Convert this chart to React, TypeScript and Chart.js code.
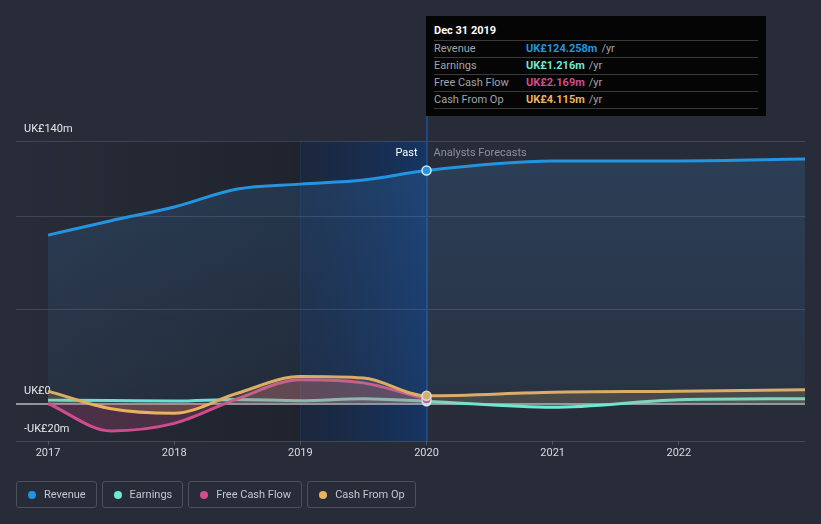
import React, { useEffect, useRef } from 'react';
import { Chart, registerables } from 'chart.js';

Chart.register(...registerables);

// ---- data ----
const years = [2017, 2017.5, 2018, 2018.5, 2019, 2019.5, 2020, 2021, 2022, 2023];
const fcfYears = [2017, 2017.5, 2018, 2018.5, 2019, 2019.5, 2020];
const revenue = [89.8, 97.5, 104.8, 114.4, 117.0, 119.2, 124.258, 129.3, 129.4, 130.4];
const earnings = [1.8, 1.6, 1.3, 2.2, 1.5, 2.6, 1.216, -2.0, 2.0, 2.6];
const freeCashFlow = [0, -14.6, -10.6, 2.5, 12.7, 11.0, 2.169];
const cashFromOp = [6.6, -2.8, -5.2, 5.5, 14.4, 13.6, 4.115, 6.0, 6.5, 7.3];

const xTickValues = [2017, 2018, 2019, 2020, 2021, 2022];
const yTickValues = [-20, 0, 50, 100, 140];
const yTickLabels = ['-UK£20m', 'UK£0', '', '', 'UK£140m'];

const highlightYear = 2020;
const pastStartYear = 2019;

const tooltipTitle = 'Dec 31 2019';
const tooltipRows = [
  { label: 'Revenue', value: 'UK£124.258m', color: '#2394df' },
  { label: 'Earnings', value: 'UK£1.216m', color: '#6ee7d3' },
  { label: 'Free Cash Flow', value: 'UK£2.169m', color: '#cf4c8e' },
  { label: 'Cash From Op', value: 'UK£4.115m', color: '#e9b25f' },
];

const legendItems = [
  { label: 'Revenue', color: '#2394df' },
  { label: 'Earnings', color: '#6ee7d3' },
  { label: 'Free Cash Flow', color: '#cf4c8e' },
  { label: 'Cash From Op', color: '#e9b25f' },
];

const BG = '#272c38';
const FONT = 'Roboto, "Open Sans", sans-serif';

const toXY = (xs: number[], ys: number[]) => xs.map((x, i) => ({ x, y: ys[i] }));

export default function App() {
  const ref = useRef<HTMLCanvasElement>(null);

  useEffect(() => {
    document.body.style.margin = '0';
    document.body.style.background = BG;
    const canvas = ref.current!;

    const shadePlugin = {
      id: 'shade',
      beforeDraw(chart: any) {
        const { ctx, chartArea: a, scales } = chart;
        const x = scales.x;
        ctx.save();
        ctx.fillStyle = BG;
        ctx.fillRect(0, 0, chart.width, chart.height);
        const x19 = x.getPixelForValue(pastStartYear);
        const x20 = x.getPixelForValue(highlightYear);
        let g = ctx.createLinearGradient(a.left, 0, x19, 0);
        g.addColorStop(0, 'rgba(0,0,0,0.0)');
        g.addColorStop(1, 'rgba(0,0,0,0.2)');
        ctx.fillStyle = g;
        ctx.fillRect(a.left, a.top, x19 - a.left, a.bottom - a.top);
        g = ctx.createLinearGradient(x19, 0, x20, 0);
        g.addColorStop(0, 'rgba(6,30,70,0.35)');
        g.addColorStop(1, 'rgba(8,60,135,0.55)');
        ctx.fillStyle = g;
        ctx.fillRect(x19, a.top, x20 - x19, a.bottom - a.top);
        ctx.fillStyle = 'rgba(40,90,160,0.2)';
        ctx.fillRect(Math.round(x19), a.top, 1, a.bottom - a.top);
        ctx.restore();
      },
      beforeDatasetsDraw(chart: any) {
        const { ctx, chartArea: a, scales } = chart;
        const x20 = scales.x.getPixelForValue(highlightYear);
        ctx.save();
        ctx.fillStyle = 'rgba(28,78,150,0.85)';
        ctx.fillRect(Math.round(x20) - 1, 116, 2, a.bottom - 116);
        ctx.font = '11px ' + FONT;
        ctx.textBaseline = 'middle';
        ctx.textAlign = 'right';
        ctx.fillStyle = '#ffffff';
        ctx.fillText('Past', x20 - 9, 153);
        ctx.textAlign = 'left';
        ctx.fillStyle = '#8b9099';
        ctx.fillText('Analysts Forecasts', x20 + 7, 153);
        ctx.restore();
      },
    };

    const pointR = (r: number) => (c: any) => (c.raw && c.raw.x === highlightYear ? r : 0);

    const revFill = (c: any) => {
      const ch = c.chart;
      const a = ch.chartArea;
      if (!a) return 'rgba(60,120,185,0.18)';
      const y0 = ch.scales.y.getPixelForValue(0);
      const g = ch.ctx.createLinearGradient(0, a.top, 0, y0);
      g.addColorStop(0, 'rgba(60,125,190,0.24)');
      g.addColorStop(1, 'rgba(60,125,190,0.08)');
      return g;
    };

    const chart = new Chart(canvas, {
      type: 'line',
      data: {
        datasets: [
          {
            label: 'Revenue',
            data: toXY(years, revenue),
            borderColor: '#2394df',
            backgroundColor: revFill,
            fill: 'origin',
            borderWidth: 3,
            cubicInterpolationMode: 'monotone',
            pointRadius: pointR(4.5),
            pointBackgroundColor: '#2394df',
            pointBorderColor: 'rgba(225,238,250,0.95)',
            pointBorderWidth: 1.5,
            order: 0,
          },
          {
            label: 'Cash From Op',
            data: toXY(years, cashFromOp),
            borderColor: '#e9b25f',
            backgroundColor: 'rgba(235,175,95,0.18)',
            fill: 'origin',
            borderWidth: 3,
            cubicInterpolationMode: 'monotone',
            pointRadius: pointR(4.5),
            pointBackgroundColor: '#e9b25f',
            pointBorderColor: 'rgba(225,238,250,0.9)',
            pointBorderWidth: 1.5,
            order: 1,
          },
          {
            label: 'Free Cash Flow',
            data: toXY(fcfYears, freeCashFlow),
            borderColor: '#cf4c8e',
            backgroundColor: 'rgba(200,70,130,0.24)',
            fill: 'origin',
            borderWidth: 3,
            cubicInterpolationMode: 'monotone',
            pointRadius: pointR(4.5),
            pointBackgroundColor: '#cf4c8e',
            pointBorderColor: 'rgba(225,238,250,0.9)',
            pointBorderWidth: 1.5,
            order: 2,
          },
          {
            label: 'Earnings',
            data: toXY(years, earnings),
            borderColor: '#6ee7d3',
            backgroundColor: 'rgba(110,231,211,0.12)',
            fill: 'origin',
            borderWidth: 3,
            cubicInterpolationMode: 'monotone',
            pointRadius: pointR(4.5),
            pointBackgroundColor: '#6ee7d3',
            pointBorderColor: 'rgba(225,238,250,0.9)',
            pointBorderWidth: 1.5,
            order: 3,
          },
        ],
      },
      options: {
        responsive: false,
        animation: false,
        devicePixelRatio: 1,
        layout: { padding: { left: 16, right: 16, top: 141, bottom: 61 } },
        plugins: { legend: { display: false }, tooltip: { enabled: false } },
        events: [],
        scales: {
          x: {
            type: 'linear',
            min: 2016.746,
            max: 2023,
            afterBuildTicks: (s: any) => {
              s.ticks = xTickValues.map((v) => ({ value: v }));
            },
            afterFit: (s: any) => {
              s.height = 22;
            },
            ticks: {
              callback: (v: any) => String(v),
              color: '#d8dadf',
              font: { size: 11, family: FONT },
              padding: 2,
              maxRotation: 0,
              autoSkip: false,
            },
            grid: { drawOnChartArea: false, drawTicks: true, tickLength: 4, color: '#4b505b' },
            border: { display: false },
          },
          y: {
            min: -20,
            max: 140,
            afterBuildTicks: (s: any) => {
              s.ticks = yTickValues.map((v) => ({ value: v }));
            },
            afterFit: (s: any) => {
              s.width = 0;
            },
            ticks: {
              mirror: true,
              padding: 8,
              labelOffset: -12,
              color: '#e6e7ea',
              font: { size: 11, family: FONT },
              callback: (_v: any, i: number) => yTickLabels[i],
            },
            grid: {
              drawTicks: false,
              color: (c: any) => (c.tick && c.tick.value === 0 ? 'rgba(165,168,175,0.85)' : 'rgba(255,255,255,0.13)'),
              lineWidth: (c: any) => (c.tick && c.tick.value === 0 ? 2 : 1),
            },
            border: { display: false },
          },
        },
      },
      plugins: [shadePlugin],
    } as any);

    return () => chart.destroy();
  }, []);

  return (
    <div style={{ position: 'fixed', left: 0, top: 0, width: 821, height: 524, background: BG, fontFamily: FONT, overflow: 'hidden' }}>
      <canvas ref={ref} width={821} height={524} style={{ position: 'absolute', left: 0, top: 0, width: 821, height: 524 }} />
      <div
        style={{
          position: 'absolute',
          left: 426,
          top: 16,
          width: 340,
          height: 100,
          background: '#050505',
          boxSizing: 'border-box',
          padding: '0 8px',
          fontSize: 11,
        }}
      >
        <div style={{ height: 24, lineHeight: '30px', color: '#ffffff', fontWeight: 700 }}>{tooltipTitle}</div>
        {tooltipRows.map((r) => (
          <div
            key={r.label}
            style={{
              height: 17,
              boxSizing: 'border-box',
              lineHeight: '16px',
              borderTop: '1px solid #3a3a3a',
              display: 'flex',
              whiteSpace: 'nowrap',
            }}
          >
            <span style={{ width: 92, color: '#a0a4ab' }}>{r.label}</span>
            <span style={{ color: r.color, fontWeight: 700 }}>{r.value}</span>
            <span style={{ color: '#a0a4ab', marginLeft: 4 }}>/yr</span>
          </div>
        ))}
        <div style={{ borderTop: '1px solid #3a3a3a' }} />
      </div>
      <div style={{ position: 'absolute', left: 16, top: 481, display: 'flex', gap: 5 }}>
        {legendItems.map((it) => (
          <div
            key={it.label}
            style={{
              height: 27,
              boxSizing: 'border-box',
              border: '1px solid #4a505c',
              borderRadius: 3,
              padding: '0 10px 0 11px',
              display: 'flex',
              alignItems: 'center',
              fontSize: 11,
              color: '#c3c7ce',
              whiteSpace: 'nowrap',
            }}
          >
            <span style={{ width: 8, height: 8, borderRadius: 4, background: it.color, marginRight: 8, display: 'inline-block' }} />
            {it.label}
          </div>
        ))}
      </div>
    </div>
  );
}
